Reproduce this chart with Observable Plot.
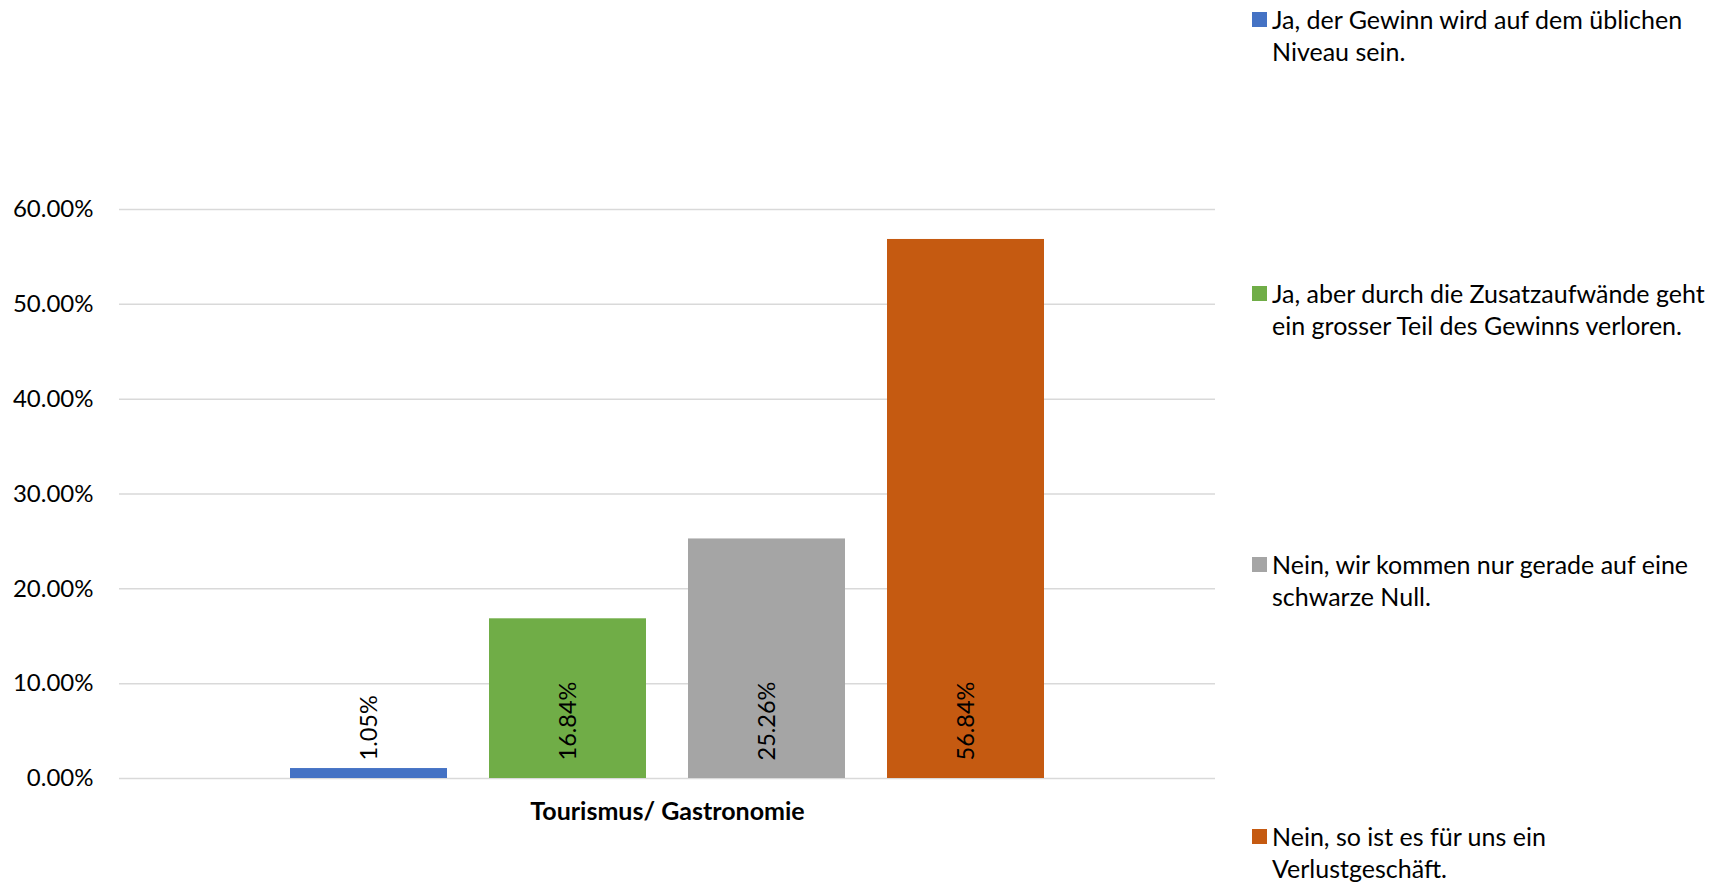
<!DOCTYPE html>
<html>
<head>
<meta charset="utf-8">
<script src="https://cdn.jsdelivr.net/npm/d3@7"></script>
<script src="https://cdn.jsdelivr.net/npm/@observablehq/plot@0.6"></script>
<style>
  html, body { margin: 0; padding: 0; background: #fff; }
  #wrap { position: relative; width: 1723px; height: 884px; overflow: hidden; font-family: Lato, sans-serif; }
  #chart { position: absolute; left: 0; top: 0; }
  .lg-item { position: absolute; left: 1252px; }
  .lg-sw { position: absolute; left: 0; width: 15px; height: 15px; }
  .lg-tx { position: absolute; left: 20px; white-space: pre; font-size: 25px; line-height: 32px; color: #000; }
</style>
</head>
<body>
<div id="wrap"><div id="chart"></div><div id="legend"></div></div>
<script>
const category = "Tourismus/ Gastronomie";
const seriesLabels = [
  "Ja, der Gewinn wird auf dem üblichen\nNiveau sein.",
  "Ja, aber durch die Zusatzaufwände geht\nein grosser Teil des Gewinns verloren.",
  "Nein, wir kommen nur gerade auf eine\nschwarze Null.",
  "Nein, so ist es für uns ein\nVerlustgeschäft."
];
const values = [0.0105, 0.1684, 0.2526, 0.5684];
const colors = ["#4472C4", "#70AD47", "#A5A5A5", "#C55A11"];
const yTicks = [0, 0.1, 0.2, 0.3, 0.4, 0.5, 0.6];
const legendTops = [12, 286, 557, 829];

const data = seriesLabels.map((s, i) => ({category, series: s, value: values[i]}));

const chart = Plot.plot({
  width: 1723,
  height: 884,
  marginLeft: 119,
  marginRight: 508,
  marginTop: 209,
  marginBottom: 106,
  style: {fontFamily: "Lato, sans-serif", fontSize: "23.5px", color: "#000", background: "transparent"},
  fx: {domain: [category], padding: 0, label: null},
  x: {domain: seriesLabels, paddingInner: 0.211, paddingOuter: 0.859, axis: null},
  y: {domain: [0, 0.6]},
  color: {domain: seriesLabels, range: colors},
  marks: [
    Plot.gridY(yTicks, {stroke: "#D9D9D9", strokeOpacity: 1, strokeWidth: 1.5}),
    Plot.axisY(yTicks, {tickSize: 0, tickPadding: 26, tickFormat: d3.format(".2%"), label: null, fill: "#000", fontSize: 24}),
    Plot.axisFx({anchor: "bottom", tickSize: 0, tickPadding: 24, label: null, fontWeight: "bold", fill: "#000", fontSize: 25}),
    Plot.barY(data, {fx: "category", x: "series", y: "value", fill: "series"}),
    Plot.text(data, {
      fx: "category", x: "series", frameAnchor: "bottom",
      text: d => d3.format(".2%")(d.value),
      rotate: -90, textAnchor: "start", lineAnchor: "middle", dy: -18, fill: "#000"
    })
  ]
});
document.getElementById("chart").appendChild(chart);

const legend = document.getElementById("legend");
seriesLabels.forEach((s, i) => {
  const item = document.createElement("div");
  item.className = "lg-item";
  item.style.top = legendTops[i] + "px";
  const sw = document.createElement("div");
  sw.className = "lg-sw";
  sw.style.background = colors[i];
  const tx = document.createElement("div");
  tx.className = "lg-tx";
  tx.style.top = "-9px";
  tx.textContent = s;
  item.appendChild(sw);
  item.appendChild(tx);
  legend.appendChild(item);
});
</script>
</body>
</html>
